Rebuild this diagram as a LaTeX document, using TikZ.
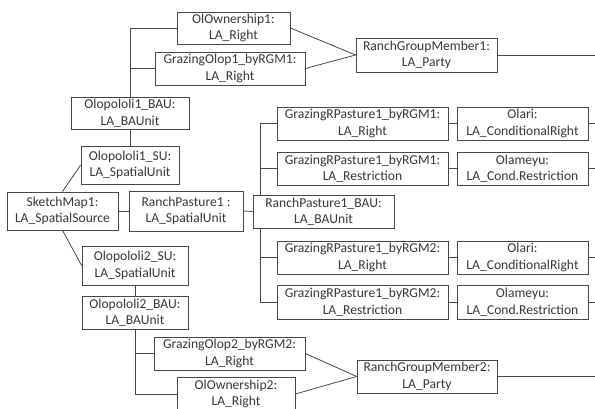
\documentclass[tikz,border=0pt]{standalone}
\usepackage{fontspec}
\setmainfont{Carlito}
\tikzset{
  x=1pt,y=-1pt,
  box/.style={draw=black!72,line width=0.8pt,fill=white,inner sep=0pt,align=center,
    font=\fontsize{13.6}{16.5}\selectfont,text=black!78},
  conn/.style={draw=black!72,line width=0.8pt}
}
\newcommand\mybox[6]{\node[box,minimum width={(#4-#2)*1pt},minimum height={(#5-#3)*1pt}] (#1) at ({(#2+#4)/2},{(#3+#5)/2}) {#6};}
\begin{document}
\begin{tikzpicture}
\useasboundingbox (0,0) rectangle (595,409);
\path[use as bounding box];
% boxes
\mybox{own1}{177}{12}{290}{44}{OlOwnership1:\\LA\_Right}
\mybox{gol1}{155}{52}{305}{85}{GrazingOlop1\_byRGM1:\\LA\_Right}
\mybox{rgm1}{356}{38}{497}{72}{RanchGroupMember1:\\LA\_Party}
\mybox{bau1}{71}{97}{189}{129}{Olopololi1\_BAU:\\LA\_BAUnit}
\mybox{su1}{81}{146}{179}{184}{Olopololi1\_SU:\\LA\_SpatialUnit}
\mybox{sm}{7}{192}{118}{230}{SketchMap1:\\LA\_SpatialSource}
\mybox{rp}{129}{191}{243}{231}{RanchPasture1 :\\LA\_SpatialUnit}
\mybox{rpbau}{253}{195}{394}{228}{RanchPasture1\_BAU:\\LA\_BAUnit}
\mybox{r1}{277}{107}{448}{140}{GrazingRPasture1\_byRGM1:\\LA\_Right}
\mybox{c1}{457}{107}{588}{140}{Olari:\\LA\_ConditionalRight}
\mybox{r2}{277}{152}{448}{185}{GrazingRPasture1\_byRGM1:\\LA\_Restriction}
\mybox{c2}{457}{152}{588}{185}{Olameyu:\\LA\_Cond.Restriction}
\mybox{r3}{277}{241}{448}{274}{GrazingRPasture1\_byRGM2:\\LA\_Right}
\mybox{c3}{457}{241}{588}{274}{Olari:\\LA\_ConditionalRight}
\mybox{r4}{277}{285}{448}{319}{GrazingRPasture1\_byRGM2:\\LA\_Restriction}
\mybox{c4}{457}{285}{588}{319}{Olameyu:\\LA\_Cond.Restriction}
\mybox{su2}{82}{246}{188}{285}{Olopololi2\_SU:\\LA\_SpatialUnit}
\mybox{bau2}{82}{296}{188}{329}{Olopololi2\_BAU:\\LA\_BAUnit}
\mybox{gol2}{154}{337}{305}{370}{GrazingOlop2\_byRGM2:\\LA\_Right}
\mybox{own2}{177}{377}{295}{411}{OlOwnership2:\\LA\_Right}
\mybox{rgm2}{357}{360}{497}{393}{RanchGroupMember2:\\LA\_Party}
% helper coordinates
\coordinate (sp) at (260,0);
\coordinate (o1) at (595,0);
% connectors
\draw[conn] (bau1.north) |- (own1.west);
\draw[conn] (bau1.north |- gol1.west) -- (gol1.west);
\draw[conn] (own1.east) -- (rgm1.west);
\draw[conn] (gol1.east) -- (rgm1.west);
\draw[conn] (rgm1.east) -- (o1 |- rgm1.east);
\draw[conn] (bau1.south) -- (su1.north);
\draw[conn] (sm.north) -- (su1.west);
\draw[conn] (sm.south) -- (su2.west);
\draw[conn] (sm.east) -- (rp.west);
\draw[conn] (rp.east) -- (rpbau.west);
\draw[conn] (r1.west) -| (sp |- rpbau.north);
\draw[conn] (sp |- rpbau.south) |- (r4.west);
\draw[conn] (r2.west) -- (sp |- r2.west);
\draw[conn] (r3.west) -- (sp |- r3.west);
\foreach \i in {1,2,3,4}{
  \draw[conn] (r\i.east) -- (c\i.west);
  \draw[conn] (c\i.east) -- (o1 |- c\i.east);
}
\draw[conn] (su2.south) -- (bau2.north);
\draw[conn] (bau2.south) |- (own2.west);
\draw[conn] (bau2.south |- gol2.west) -- (gol2.west);
\draw[conn] (gol2.east) -- (rgm2.west);
\draw[conn] (own2.east) -- (rgm2.west);
\draw[conn] (rgm2.east) -- (o1 |- rgm2.east);
\end{tikzpicture}
\end{document}
